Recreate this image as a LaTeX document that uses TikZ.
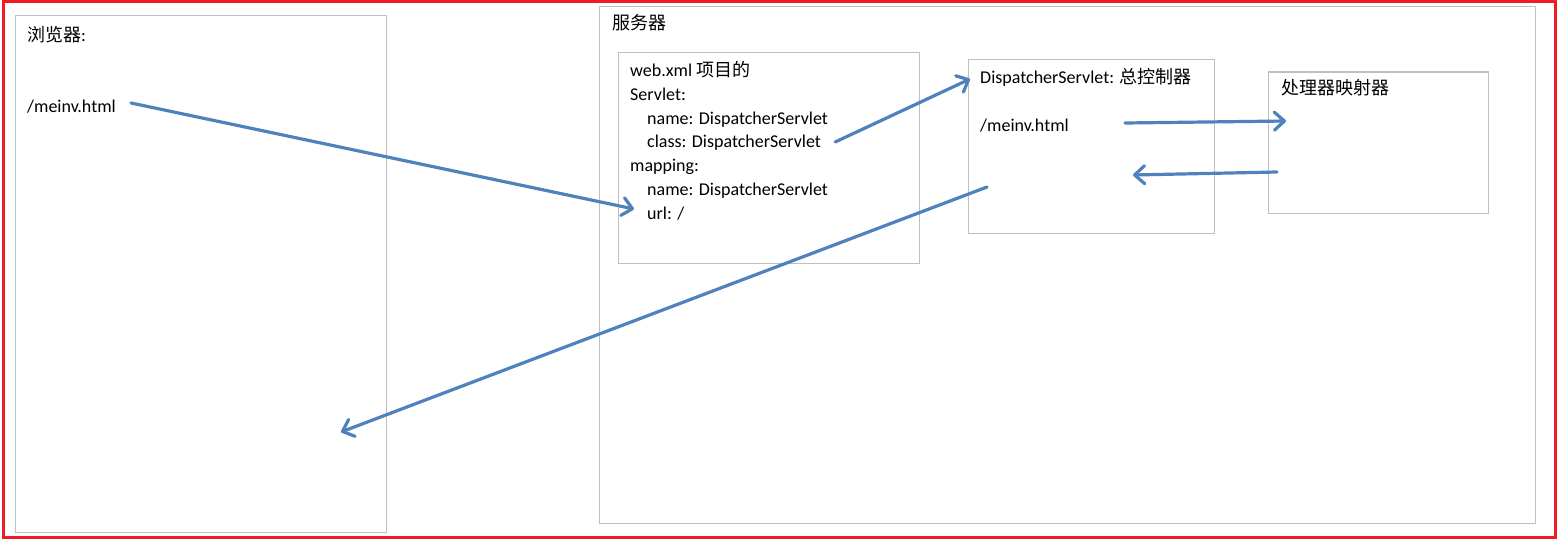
\documentclass[tikz,border=0pt]{standalone}
\usepackage{fontspec}
\setmainfont{Carlito}
\newfontfamily\cjk{Noto Sans CJK SC}
\usetikzlibrary{arrows.meta}
\definecolor{arrowblue}{HTML}{4F81BD}
\definecolor{boxgray}{HTML}{BFBFBF}
\definecolor{framered}{HTML}{EE1C25}
\begin{document}
\begin{tikzpicture}[x=1pt,y=-1pt,
  font=\fontsize{18}{22}\selectfont,
  box/.style={draw=boxgray, line width=1pt, anchor=north west, inner sep=0pt, outer sep=0pt},
  lbl/.style={anchor=west, inner sep=0pt, text height=13pt, text depth=4pt},
  flow/.style={draw=arrowblue, line width=3.2pt, line cap=round,
    -{Straight Barb[length=10pt,width=18pt,line cap=round,line join=round]}}]
\useasboundingbox (0,0) rectangle (1560,543);
\draw[draw=framered, line width=3pt] (3,2) rectangle (1555,537);

% boxes
\node[box, minimum width=371pt, minimum height=516pt] (browser) at (15,16) {};
\node[box, minimum width=936pt, minimum height=516pt] (server) at (599,7) {};
\node[box, minimum width=301pt, minimum height=210pt] (webxml) at (618,53) {};
\node[box, minimum width=246pt, minimum height=173pt] (dbox) at (968,60) {};
\node[box, minimum width=220pt, minimum height=141pt] (hmbox) at (1268,72) {};

% texts
\node[lbl] (btitle) at (27,37) {{\cjk 浏览器}:};
\node[lbl] (bmeinv) at (27,108) {/meinv.html};
\node[lbl] (stitle) at (612,25) {\cjk 服务器};
\node[lbl] (wtitle) at (630,72) {web.xml {\cjk 项目的}};
\node[lbl] (servlet) at (630,96) {Servlet:};
\node[lbl] (sname) at (647,120) {name: DispatcherServlet};
\node[lbl] (cls) at (647,143) {class: DispatcherServlet};
\node[lbl] (mapping) at (630,167) {mapping:};
\node[lbl] (mname) at (647,191) {name: DispatcherServlet};
\node[lbl] (url) at (647,215) {url: /};
\node[lbl] (dtitle) at (980,79) {DispatcherServlet: {\cjk 总控制器}};
\node[lbl] (dmeinv) at (980,127) {/meinv.html};
\node[lbl] (htitle) at (1281,90) {\cjk 处理器映射器};

% arrows
\draw[flow] ([shift={(15,-5)}]bmeinv.east) -- ([shift={(-13,-6)}]url.west);
\draw[flow] ([shift={(14,-1)}]cls.east) -- ([shift={(-10,0)}]dtitle.west);
\draw[flow] ([shift={(56,-4)}]dmeinv.east) -- ([shift={(18,49)}]hmbox.north west);
\draw[flow] ([shift={(9,100)}]hmbox.north west) -- ([shift={(64,48)}]dmeinv.east);
\draw[flow] ([shift={(19,127)}]dbox.north west) -- ([shift={(-45,-100)}]browser.south east);
\end{tikzpicture}
\end{document}
